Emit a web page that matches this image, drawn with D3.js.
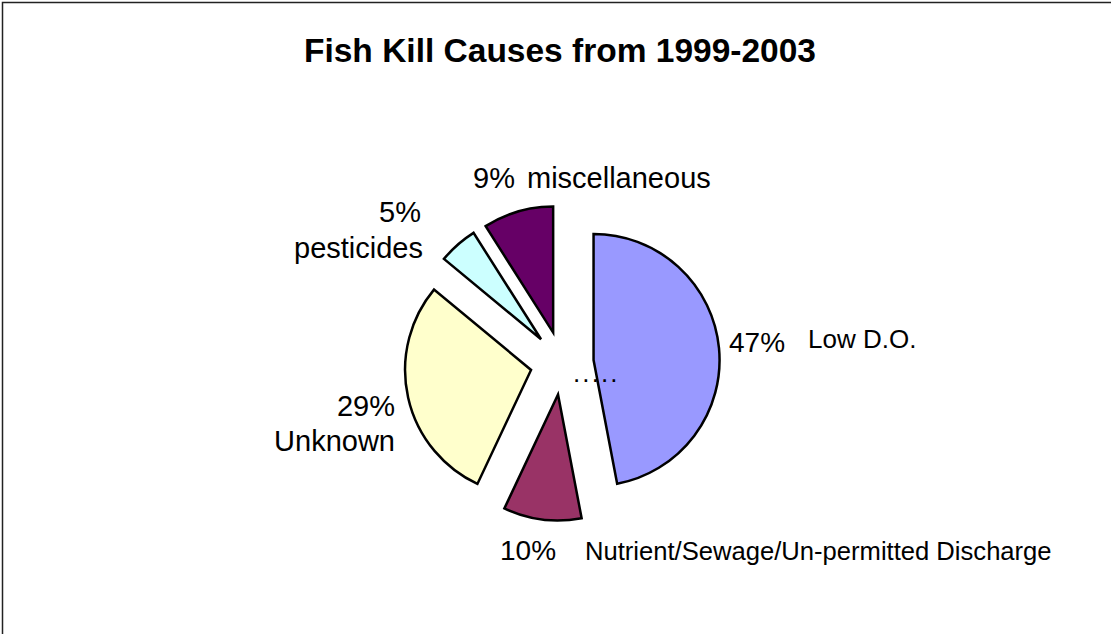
<!DOCTYPE html>
<html lang="en">
<head>
<meta charset="UTF-8">
<title>Fish Kill Causes from 1999-2003</title>
<script src="https://cdn.jsdelivr.net/npm/d3@7"></script>
<style>
  body { margin: 0; background: #fff; }
  svg { display: block; font-family: Arial, "Liberation Sans", sans-serif; }
</style>
</head>
<body>
<svg width="1111" height="634"></svg>
<script>
// data, clockwise from 12 o'clock
var causes = ["Low D.O.", "Nutrient/Sewage/Un-permitted Discharge", "Unknown", "pesticides", "miscellaneous"];
var shares = [47, 10, 29, 5, 9];
var colors = ["#9999ff", "#993366", "#ffffcc", "#ccffff", "#660066"];

var W = 1111, H = 634;
var cx = 562, cy = 363, radius = 126, explode = 31.7;

var svg = d3.select("svg");

// chart frame (bottom/right run off the picture)
svg.append("rect")
    .attr("x", 2.5).attr("y", 2.5)
    .attr("width", W + 20).attr("height", H + 20)
    .attr("fill", "none")
    .attr("stroke", "#222")
    .attr("stroke-width", 1.5);

svg.append("text")
    .attr("x", 560).attr("y", 62)
    .attr("text-anchor", "middle")
    .attr("font-size", 33.5)
    .attr("font-weight", "bold")
    .text("Fish Kill Causes from 1999-2003");

var rows = causes.map(function (c, i) { return { name: c, value: shares[i], color: colors[i] }; });

var pie = d3.pie().sort(null).value(function (d) { return d.value; });
var arc = d3.arc().innerRadius(0).outerRadius(radius);
var arcs = pie(rows);

var g = svg.append("g").attr("transform", "translate(" + cx + "," + cy + ")");

g.selectAll("path")
    .data(arcs)
    .join("path")
    .attr("d", arc)
    .attr("transform", function (d) {
        var mid = (d.startAngle + d.endAngle) / 2;
        return "translate(" + (Math.sin(mid) * explode) + "," + (-Math.cos(mid) * explode) + ")";
    })
    .attr("fill", function (d) { return d.data.color; })
    .attr("stroke", "#000")
    .attr("stroke-width", 2.5)
    .attr("stroke-linejoin", "miter");

// label layout, hand placed like the original
var labelLayout = {
    "Low D.O.": [
        { x: 729, y: 352, size: 28, anchor: "start", pct: true },
        { x: 808, y: 348, size: 26, anchor: "start" }
    ],
    "Nutrient/Sewage/Un-permitted Discharge": [
        { x: 500, y: 560, size: 28, anchor: "start", pct: true },
        { x: 585, y: 560, size: 25.6, anchor: "start" }
    ],
    "Unknown": [
        { x: 395, y: 416, size: 29, anchor: "end", pct: true },
        { x: 395, y: 451, size: 29, anchor: "end" }
    ],
    "pesticides": [
        { x: 421, y: 222, size: 29, anchor: "end", pct: true },
        { x: 423, y: 258, size: 29, anchor: "end" }
    ],
    "miscellaneous": [
        { x: 473, y: 188, size: 29, anchor: "start", pct: true },
        { x: 527, y: 188, size: 29, anchor: "start" }
    ]
};

arcs.forEach(function (d) {
    labelLayout[d.data.name].forEach(function (l) {
        svg.append("text")
            .attr("x", l.x).attr("y", l.y)
            .attr("text-anchor", l.anchor)
            .attr("font-size", l.size)
            .text(l.pct ? d.data.value + "%" : d.data.name);
    });
});

// stray leader dots near the centre
svg.append("text")
    .attr("x", 573).attr("y", 382)
    .attr("font-size", 26)
    .attr("letter-spacing", 2.1)
    .text(".....");
</script>
</body>
</html>
